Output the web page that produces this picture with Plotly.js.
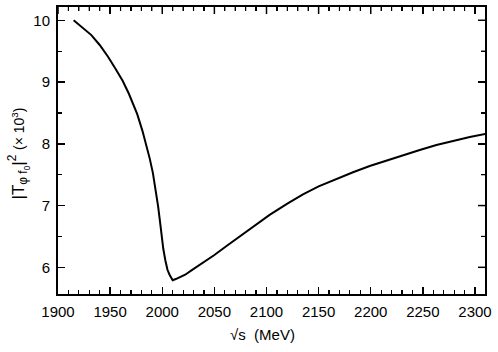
<!DOCTYPE html>
<html>
<head>
<meta charset="utf-8">
<script src="https://cdn.plot.ly/plotly-3.0.1.min.js"></script>
<style>
  html, body { margin: 0; padding: 0; background: #fff; }
  #plot { width: 498px; height: 352px; }
</style>
</head>
<body>
<div id="plot"></div>
<script>
// sqrt(s) in MeV and |T|^2 (x 10^3)
const sqrtS = [1915, 1925, 1932, 1940, 1948, 1955, 1962, 1968, 1976, 1981, 1985, 1988, 1991,
               1994, 1996, 1998, 1999.5, 2001, 2003, 2004, 2005, 2007, 2009, 2010, 2013, 2017,
               2022, 2028, 2036, 2050, 2062, 2075, 2087, 2103, 2120, 2135, 2150, 2167, 2183,
               2199, 2215, 2231, 2247, 2263, 2279, 2295, 2310];
const tSq = [10.00, 9.86, 9.76, 9.60, 9.41, 9.22, 9.02, 8.81, 8.48, 8.21, 7.96, 7.76, 7.53,
             7.24, 6.99, 6.72, 6.47, 6.30, 6.11, 6.01, 5.96, 5.88, 5.81, 5.79, 5.81, 5.84,
             5.88, 5.95, 6.04, 6.20, 6.35, 6.51, 6.66, 6.85, 7.03, 7.18, 7.31, 7.43, 7.54,
             7.64, 7.73, 7.82, 7.90, 7.98, 8.05, 8.11, 8.16];

const xTickVals = [1900, 1950, 2000, 2050, 2100, 2150, 2200, 2250, 2300];
const yTickVals = [6, 7, 8, 9, 10];
const xRange = [1900, 2309.6];
const yRange = [5.568, 10.215];

const xTitle = '√s  (MeV)';
const yTitle = '|T<sub>φ f<sub>0</sub></sub>|<sup>2</sup> <span style="font-size:14px">(× 10<sup>3</sup>)</span>';

var font = {family: 'Liberation Sans, Arial, sans-serif', color: '#000'};

var data = [
  {x: sqrtS, y: tSq, type: 'scatter', mode: 'lines', line: {color: '#000', width: 2}, hoverinfo: 'none'}
];

function axis(extra) {
  return Object.assign({
    type: 'linear', autorange: false,
    showgrid: false, zeroline: false,
    showline: true, linecolor: '#000', linewidth: 2, mirror: 'ticks',
    ticks: 'inside', ticklen: 7, tickwidth: 1.5, tickcolor: '#000',
    tickfont: Object.assign({size: 15}, font),
    ticklabelstandoff: 3
  }, extra);
}

var xMinor = {ticks: 'inside', ticklen: 4, dtick: 10, tick0: 1900, tickcolor: '#000', tickwidth: 1.2};
var yMinor = {ticks: 'inside', ticklen: 4, dtick: 0.5, tick0: 6, tickcolor: '#000', tickwidth: 1.2};

// mirrored tick marks on the top and right edges
var shapes = [];
function topTick(v, len, w) {
  shapes.push({type: 'line', xref: 'x', yref: 'paper', x0: v, x1: v, y0: 1, y1: 1 - len / 287,
               layer: 'above', line: {color: '#000', width: w}});
}
function rightTick(v, len, w) {
  shapes.push({type: 'line', xref: 'paper', yref: 'y', x0: 1, x1: 1 - len / 427, y0: v, y1: v,
               layer: 'above', line: {color: '#000', width: w}});
}
var xMinorVals = [];
for (let i = 0; xRange[0] + i * xMinor.dtick <= xRange[1]; i++) xMinorVals.push(xRange[0] + i * xMinor.dtick);
var yMinorVals = [];
for (let i = 0; 5.5 + i * yMinor.dtick <= yRange[1]; i++) yMinorVals.push(5.5 + i * yMinor.dtick);
xMinorVals.forEach(function (v) {
  if (xTickVals.indexOf(v) >= 0) topTick(v, 7, 1.5); else topTick(v, 4, 1.2);
});
yMinorVals.forEach(function (v) {
  if (v < yRange[0]) return;
  if (yTickVals.indexOf(v) >= 0) rightTick(v, 7, 1.5); else rightTick(v, 4, 1.2);
});

var layout = {
  width: 498, height: 352,
  margin: {l: 58, r: 13, t: 7, b: 58},
  paper_bgcolor: '#fff', plot_bgcolor: '#fff',
  showlegend: false,
  font: font,
  xaxis: axis({range: xRange, tickmode: 'array', tickvals: xTickVals, minor: xMinor}),
  yaxis: axis({range: yRange, tickmode: 'array', tickvals: yTickVals, minor: yMinor}),
  shapes: shapes,
  annotations: [
    {text: xTitle, xref: 'paper', yref: 'paper', x: (262 - 58) / 427, y: -(334 - 294) / 287,
     xanchor: 'center', yanchor: 'middle', showarrow: false, font: Object.assign({size: 15}, font)},
    {text: yTitle, xref: 'paper', yref: 'paper', x: (18 - 58) / 427, y: (294 - 153.5) / 287,
     xanchor: 'center', yanchor: 'middle', textangle: -90, showarrow: false,
     font: Object.assign({size: 17}, font)}
  ]
};

Plotly.newPlot('plot', data, layout, {staticPlot: true});
</script>
</body>
</html>
